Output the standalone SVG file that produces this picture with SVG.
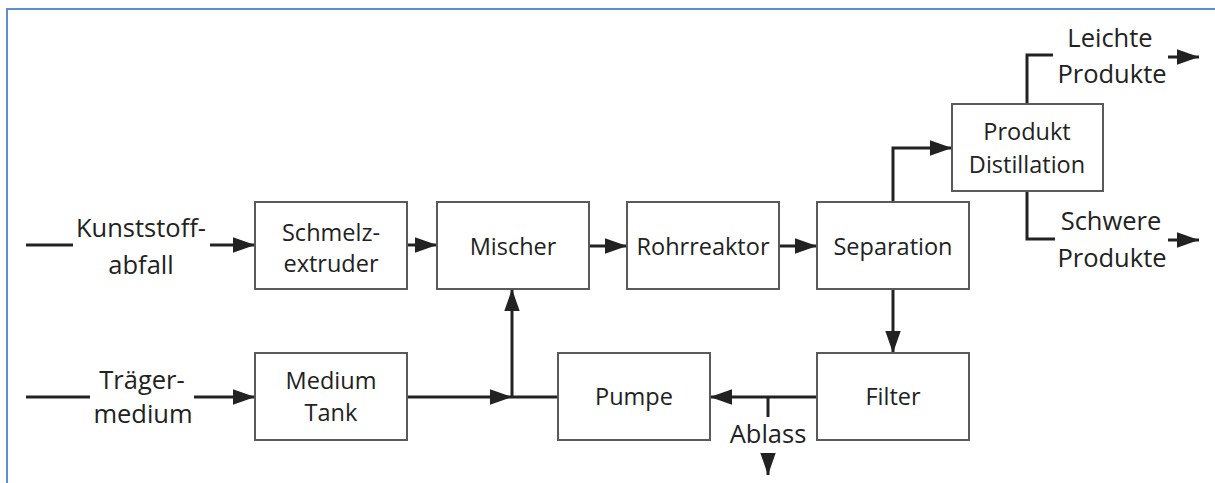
<svg xmlns="http://www.w3.org/2000/svg" width="1215" height="483" viewBox="0 0 1215 483">
  <defs>
    <style>
      .box { fill: #fff; stroke: #5a5a5a; stroke-width: 2; }
      .lbl { font-family: "Open Sans", "Noto Sans", sans-serif; font-size: 23.5px; fill: #222; text-anchor: middle; }
      .out { font-family: "Open Sans", "Noto Sans", sans-serif; font-size: 25.5px; fill: #222; text-anchor: middle; }
      .con { fill: none; stroke: #222; stroke-width: 3; }
      .arr { fill: none; stroke: #222; stroke-width: 3; marker-end: url(#ah); }
    </style>
    <marker id="ah" markerUnits="userSpaceOnUse" markerWidth="22" markerHeight="16" refX="20" refY="7" orient="auto" viewBox="0 0 20 14">
      <path d="M0,0 L20,7 L0,14 Z" fill="#222"/>
    </marker>
  </defs>
  <rect x="0" y="0" width="1215" height="483" fill="#fff"/>
  <path d="M7,483 V9 H1215" fill="none" stroke="#5b8fd0" stroke-width="2"/>

  <g id="connectors">
    <path class="con" d="M26,245 H73"/>
    <path class="arr" d="M210,245 H255"/>
    <path class="con" d="M26,397 H90"/>
    <path class="arr" d="M194,397 H255"/>
    <path class="arr" d="M407,245 H437"/>
    <path class="arr" d="M589,246 H627"/>
    <path class="arr" d="M779,246 H817"/>
    <path class="arr" d="M407,397 H512"/>
    <path class="con" d="M558,397 H512"/>
    <path class="arr" d="M512,397 V289"/>
    <path class="arr" d="M817,397 H710"/>
    <path class="con" d="M768,397 V417"/>
    <path class="arr" d="M768,455 V475"/>
    <path class="arr" d="M893,289 V353"/>
    <path class="arr" d="M893,203 V148 H952"/>
    <path class="con" d="M1027,104 V55 H1053"/>
    <path class="arr" d="M1168,57 H1199"/>
    <path class="con" d="M1027,191 V239 H1055"/>
    <path class="arr" d="M1168,240 H1199"/>
  </g>

  <g id="label-kunststoff">
    <text class="out" x="141" y="237">Kunststoff-</text>
    <text class="out" x="141" y="274">abfall</text>
  </g>
  <g id="label-traeger">
    <text class="out" x="142" y="389">Träger-</text>
    <text class="out" x="143" y="423">medium</text>
  </g>
  <g id="node-extruder">
    <rect class="box" x="255" y="202" width="152" height="87"/>
    <text class="lbl" x="331" y="241">Schmelz-</text>
    <text class="lbl" x="331" y="272">extruder</text>
  </g>
  <g id="node-tank">
    <rect class="box" x="255" y="353" width="152" height="87"/>
    <text class="lbl" x="331" y="389">Medium</text>
    <text class="lbl" x="331" y="421">Tank</text>
  </g>
  <g id="node-mischer">
    <rect class="box" x="437" y="202" width="152" height="87"/>
    <text class="lbl" x="513" y="255">Mischer</text>
  </g>
  <g id="node-rohrreaktor">
    <rect class="box" x="627" y="202" width="152" height="87"/>
    <text class="lbl" x="703" y="255">Rohrreaktor</text>
  </g>
  <g id="node-separation">
    <rect class="box" x="817" y="202" width="152" height="87"/>
    <text class="lbl" x="893" y="255">Separation</text>
  </g>
  <g id="node-pumpe">
    <rect class="box" x="558" y="353" width="152" height="87"/>
    <text class="lbl" x="634" y="405">Pumpe</text>
  </g>
  <g id="node-filter">
    <rect class="box" x="817" y="353" width="152" height="87"/>
    <text class="lbl" x="893" y="405">Filter</text>
  </g>
  <g id="node-destillation">
    <rect class="box" x="952" y="104" width="151" height="87"/>
    <text class="lbl" x="1027" y="140">Produkt</text>
    <text class="lbl" x="1027" y="173">Distillation</text>
  </g>
  <g id="label-leichte">
    <text class="out" x="1110" y="47">Leichte</text>
    <text class="out" x="1112" y="83">Produkte</text>
  </g>
  <g id="label-schwere">
    <text class="out" x="1111" y="230">Schwere</text>
    <text class="out" x="1112" y="267">Produkte</text>
  </g>
  <g id="label-ablass">
    <text class="out" x="768" y="443">Ablass</text>
  </g>
</svg>
